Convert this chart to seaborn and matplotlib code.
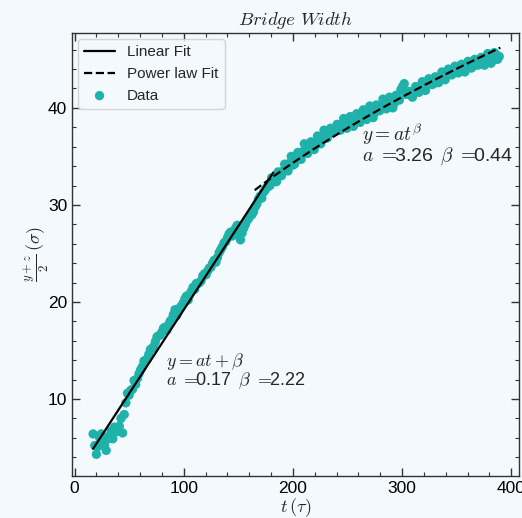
import matplotlib
matplotlib.use("Agg")
import matplotlib.pyplot as plt
from matplotlib.ticker import MultipleLocator
import numpy as np
import seaborn as sns

# measured bridge width vs time
t_data = [17, 20, 23, 26, 29, 32, 35, 38, 41, 44, 47, 50, 53, 56, 59, 62, 65, 68, 71, 74,
          77, 80, 83, 86, 89, 92, 95, 98, 101, 104, 107, 110, 113, 116, 119, 122, 125, 128, 131, 134,
          137, 140, 143, 146, 149, 152, 155, 158, 161, 164, 167, 170, 173, 176, 179, 182, 185, 188, 191, 194,
          197, 200, 203, 206, 209, 212, 215, 218, 221, 224, 227, 230, 233, 236, 239, 242, 245, 248, 251, 254,
          257, 260, 263, 266, 269, 272, 275, 278, 281, 284, 287, 290, 293, 296, 299, 302, 305, 308, 311, 314,
          317, 320, 323, 326, 329, 332, 335, 338, 341, 344, 347, 350, 353, 356, 359, 362, 365, 368, 371, 374,
          377, 380, 383, 386, 389]
w_data = [6.4, 4.3, 6.0, 5.6, 4.7, 6.2, 5.9, 6.6, 7.2, 6.5, 9.6, 10.4, 11.0, 11.5, 12.6, 13.3, 14.0, 14.6, 15.2, 15.9,
          16.5, 16.9, 17.4, 17.6, 18.2, 19.2, 19.0, 19.6, 20.3, 20.2, 21.1, 21.3, 21.9, 22.2, 22.9, 23.2, 23.6, 24.3, 24.6, 25.4,
          26.1, 26.6, 27.2, 27.3, 27.9, 26.4, 27.6, 28.4, 28.9, 29.3, 30.1, 30.9, 31.3, 31.8, 32.0, 32.6, 32.4, 33.2, 33.5, 34.0,
          34.3, 34.1, 34.8, 35.2, 35.5, 35.4, 35.9, 36.3, 36.2, 36.8, 37.1, 36.9, 37.4, 37.7, 37.6, 38.0, 38.3, 38.1, 38.5, 38.7,
          38.6, 39.0, 39.2, 39.0, 39.4, 39.6, 39.5, 40.0, 40.2, 40.1, 40.5, 40.7, 40.5, 41.0, 41.9, 42.5, 41.4, 41.3, 41.6, 41.9,
          42.1, 41.9, 42.4, 42.6, 42.5, 42.9, 43.1, 43.0, 43.4, 43.7, 43.6, 43.9, 44.1, 43.9, 44.2, 44.4, 44.3, 44.7, 44.9, 44.6,
          45.0, 45.2, 44.9, 45.5, 45.3]
# samples in between
t_mid = [18.5, 21.5, 24.5, 27.5, 30.5, 33.5, 36.5, 39.5, 42.5, 45.5, 48.5, 51.5, 54.5, 57.5, 60.5, 63.5, 66.5, 69.5,
         72.5, 75.5, 78.5, 81.5, 84.5, 87.5, 90.5, 93.5, 96.5, 99.5, 102.5, 105.5, 108.5, 111.5, 114.5, 117.5, 120.5,
         123.5, 126.5, 129.5, 132.5, 135.5, 138.5, 141.5, 144.5, 147.5, 150.5, 153.5, 156.5, 159.5, 162.5, 165.5,
         168.5, 171.5, 174.5, 177.5, 180.5, 183.5, 186.5, 189.5, 192.5, 195.5, 198.5, 201.5, 204.5, 207.5, 210.5,
         213.5, 216.5, 219.5, 222.5, 225.5, 228.5, 231.5, 234.5, 237.5, 240.5, 243.5, 246.5, 249.5, 252.5, 255.5,
         258.5, 261.5, 264.5, 267.5, 270.5, 273.5, 276.5, 279.5, 282.5, 285.5, 288.5, 291.5, 294.5, 297.5, 300.5,
         303.5, 306.5, 309.5, 312.5, 315.5, 318.5, 321.5, 324.5, 327.5, 330.5, 333.5, 336.5, 339.5, 342.5, 345.5,
         348.5, 351.5, 354.5, 357.5, 360.5, 363.5, 366.5, 369.5, 372.5, 375.5, 378.5, 381.5, 384.5, 387.5]
w_mid = [5.2, 5.1, 6.4, 5.3, 5.9, 6.7, 7.1, 6.9, 8.0, 8.4, 10.6, 10.9, 11.9, 12.1, 13.0, 13.9, 14.1, 15.1,
         15.4, 16.4, 16.6, 17.3, 17.1, 18.0, 18.7, 18.6, 19.4, 19.9, 20.6, 20.8, 21.5, 21.9, 22.0, 22.7, 22.8,
         23.5, 24.0, 24.1, 25.1, 25.7, 26.2, 27.0, 26.8, 27.6, 27.0, 27.1, 28.0, 28.6, 29.0, 29.8,
         30.6, 30.7, 31.5, 31.9,
         32.8, 32.4, 33.4, 33.0, 34.2, 33.5, 35.0, 34.2, 35.4, 34.7, 36.3,
         35.3, 36.5, 35.7, 37.1, 36.3, 37.7, 36.9, 37.9, 37.5, 38.3, 37.7, 38.9, 37.9, 39.1, 38.1,
         39.4, 38.5, 39.8, 38.8, 40.2, 39.0, 40.3, 39.7, 40.9, 39.9, 41.1, 40.0, 41.3, 40.8, 42.2,
         41.4, 41.7, 41.1, 42.2, 41.6, 42.7, 41.8, 43.0, 42.4, 43.2, 42.6, 43.7, 42.9, 44.0, 43.4,
         44.3, 43.6, 44.5, 43.7, 44.8, 44.1, 45.0, 44.4, 45.2, 44.4, 45.6, 44.6, 45.7, 45.0]

lin_label = r"$a\ =\!\!$0.17 $\,\beta\ =\!\!$2.22"
pow_label = r"$a\ =\!\!$3.26 $\,\beta\ =\!\!$0.44"
lin_range = (17, 182)
pow_range = (165, 390)

bg = "#f3f9fc"
sns.set_theme(style="ticks")
plt.rcParams["font.family"] = ["Liberation Sans", "DejaVu Sans"]
plt.rcParams["mathtext.fontset"] = "cm"

t_all = np.array(t_data + t_mid)
w_all = np.array(w_data + w_mid)

# fits
m_lin = (t_all >= lin_range[0]) & (t_all <= lin_range[1])
k, c = np.polyfit(t_all[m_lin], w_all[m_lin], 1)
m_pow = (t_all >= pow_range[0]) & (t_all <= pow_range[1])
b, loga = np.polyfit(np.log(t_all[m_pow]), np.log(w_all[m_pow]), 1)

fig, ax = plt.subplots(figsize=(5.22, 5.18), dpi=100)
fig.patch.set_facecolor(bg)
ax.set_facecolor(bg)
fig.subplots_adjust(left=0.138, right=0.994, bottom=0.081, top=0.936)

t_lin = np.linspace(*lin_range, 50)
t_pow = np.linspace(*pow_range, 100)
sns.lineplot(x=t_lin, y=k * t_lin + c, ax=ax, color="black", lw=1.6, label="Linear Fit")
sns.lineplot(x=t_pow, y=np.exp(loga) * t_pow ** b, ax=ax, color="black", lw=1.6,
             linestyle="--", label="Power law Fit")
sns.scatterplot(x=t_all, y=w_all, ax=ax, color="#1fb2aa", s=45, edgecolor="none",
                label="Data", zorder=1)

ax.text(263, 37.3, r"$y = at^\beta$", fontsize=14, va="center")
ax.text(263, 35.05, pow_label, fontsize=14, va="center")
ax.text(84, 13.9, r"$y = at + \beta$", fontsize=13, va="center")
ax.text(84, 11.9, lin_label, fontsize=13, va="center")

ax.set_xlim(-2.3, 407)
ax.set_ylim(2.06, 47.7)
ax.xaxis.set_minor_locator(MultipleLocator(20))
ax.yaxis.set_minor_locator(MultipleLocator(2))
ax.tick_params(which="both", direction="in", top=True, right=True, colors="#333333",
               labelcolor="black", labelsize=12.5)
ax.tick_params(which="major", length=6, width=1)
ax.tick_params(which="minor", length=3, width=0.8)
for sp in ax.spines.values():
    sp.set_color("#333333")
    sp.set_linewidth(1)

ax.set_title(r"$Bridge\ Width$", fontsize=13.5)
ax.set_xlabel(r"$t\,(\tau)$", fontsize=13, labelpad=0)
ax.set_ylabel(r"$\frac{y+z}{2}\,(\sigma)$", fontsize=13, labelpad=-2.5)

leg = ax.legend(loc="upper left", fontsize=11, frameon=True, fancybox=True,
                borderaxespad=0.4)
leg.get_frame().set_facecolor(bg)
leg.get_frame().set_edgecolor("#cccccc")

plt.savefig("out.png", dpi=100, facecolor=bg)
